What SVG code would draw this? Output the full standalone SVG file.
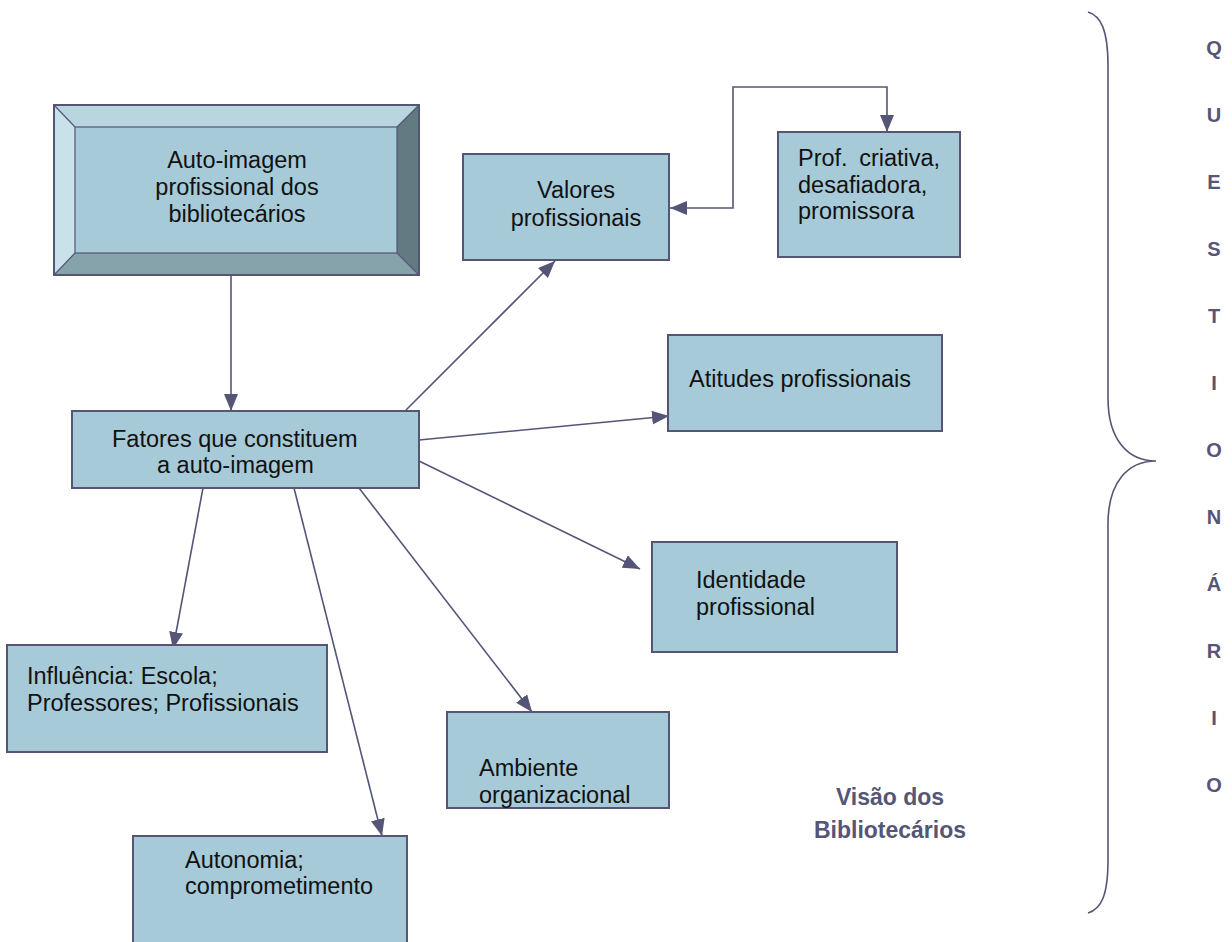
<svg xmlns="http://www.w3.org/2000/svg" width="1232" height="942" viewBox="0 0 1232 942">
<defs>
<marker id="ah" markerUnits="userSpaceOnUse" markerWidth="18" markerHeight="14" viewBox="0 0 18 14" refX="17" refY="7" orient="auto-start-reverse">
<path d="M0,0 L17,7 L0,14 Z" fill="#555577"/>
</marker>
</defs>
<style>
.box{fill:#a6cad8;stroke:#555577;stroke-width:2}
.t{font-family:"Liberation Sans",Arial,sans-serif;font-size:23.5px;fill:#111}
.c{fill:none;stroke:#555577;stroke-width:1.6}
.q{font-family:"Liberation Sans",Arial,sans-serif;font-size:20px;font-weight:bold;fill:#555577;text-anchor:middle}
.v{font-family:"Liberation Sans",Arial,sans-serif;font-size:23px;font-weight:bold;fill:#555577;text-anchor:middle}
</style>
<rect width="1232" height="942" fill="#ffffff"/>

<g id="connectors">
<line class="c" x1="231" y1="275" x2="231" y2="411" marker-end="url(#ah)"/>
<line class="c" x1="406" y1="410" x2="555" y2="261" marker-end="url(#ah)"/>
<line class="c" x1="419" y1="440" x2="669" y2="416" marker-end="url(#ah)"/>
<line class="c" x1="419" y1="461" x2="640" y2="569" marker-end="url(#ah)"/>
<line class="c" x1="359" y1="488" x2="532" y2="712" marker-end="url(#ah)"/>
<line class="c" x1="294" y1="488" x2="382" y2="836" marker-end="url(#ah)"/>
<line class="c" x1="203" y1="488" x2="173" y2="649" marker-end="url(#ah)"/>
<path class="c" d="M670,208 L733,208 L733,87 L887,87 L887,132" marker-start="url(#ah)" marker-end="url(#ah)"/>
</g>

<g id="auto-imagem">
<polygon points="54,105 419,105 397,127 75,127" fill="#b9d6e0"/>
<polygon points="54,105 75,127 75,253 54,275" fill="#c9e1e9"/>
<polygon points="419,105 419,275 397,253 397,127" fill="#637a82"/>
<polygon points="54,275 75,253 397,253 419,275" fill="#86a2ab"/>
<rect x="75" y="127" width="322" height="126" fill="#a6cad8" stroke="#555577" stroke-width="1.2"/>
<path d="M54,105 L75,127 M419,105 L397,127 M54,275 L75,253 M419,275 L397,253" stroke="#555577" stroke-width="1.2"/>
<rect x="54" y="105" width="365" height="170" fill="none" stroke="#555577" stroke-width="2"/>
<text class="t" text-anchor="middle"><tspan x="237" y="168">Auto-imagem</tspan><tspan x="237" y="195">profissional dos</tspan><tspan x="237" y="222">bibliotecários</tspan></text>
</g>

<g id="valores">
<rect class="box" x="463" y="154" width="206" height="106"/>
<text class="t" text-anchor="middle"><tspan x="576" y="198">Valores</tspan><tspan x="576" y="226">profissionais</tspan></text>
</g>

<g id="prof-criativa">
<rect class="box" x="778" y="132" width="182" height="125"/>
<text class="t"><tspan x="798" y="166" word-spacing="5">Prof. criativa,</tspan><tspan x="798" y="193">desafiadora,</tspan><tspan x="798" y="219">promissora</tspan></text>
</g>

<g id="atitudes">
<rect class="box" x="668" y="335" width="274" height="96"/>
<text class="t" x="689" y="387">Atitudes profissionais</text>
</g>

<g id="fatores">
<rect class="box" x="72" y="411" width="347" height="77"/>
<text class="t"><tspan x="112" y="447">Fatores que constituem</tspan><tspan x="157" y="473">a auto-imagem</tspan></text>
</g>

<g id="identidade">
<rect class="box" x="652" y="542" width="245" height="110"/>
<text class="t"><tspan x="696" y="588">Identidade</tspan><tspan x="696" y="615">profissional</tspan></text>
</g>

<g id="influencia">
<rect class="box" x="7" y="645" width="320" height="107"/>
<text class="t"><tspan x="27" y="684">Influência: Escola;</tspan><tspan x="27" y="711">Professores; Profissionais</tspan></text>
</g>

<g id="ambiente">
<rect class="box" x="447" y="712" width="222" height="96"/>
<text class="t"><tspan x="479" y="776">Ambiente</tspan><tspan x="479" y="803">organizacional</tspan></text>
</g>

<g id="autonomia">
<rect class="box" x="133" y="836" width="274" height="115"/>
<text class="t"><tspan x="185" y="868">Autonomia;</tspan><tspan x="185" y="894">comprometimento</tspan></text>
</g>

<g id="brace">
<path d="M1088,12 C1101,16 1108,30 1108,66 L1108,398 C1108,440 1128,461 1156,461 C1128,461 1108,482 1108,524 L1108,860 C1108,896 1101,909 1088,913" fill="none" stroke="#555577" stroke-width="1.6"/>
</g>

<g id="questionario">
<text class="q" x="1214" y="55">Q</text>
<text class="q" x="1214" y="122">U</text>
<text class="q" x="1214" y="189">E</text>
<text class="q" x="1214" y="256">S</text>
<text class="q" x="1214" y="323">T</text>
<text class="q" x="1214" y="390">I</text>
<text class="q" x="1214" y="457">O</text>
<text class="q" x="1214" y="524">N</text>
<text class="q" x="1214" y="591">Á</text>
<text class="q" x="1214" y="658">R</text>
<text class="q" x="1214" y="725">I</text>
<text class="q" x="1214" y="792">O</text>
</g>

<g id="visao">
<text class="v"><tspan x="890" y="805">Visão dos</tspan><tspan x="890" y="838">Bibliotecários</tspan></text>
</g>
</svg>
